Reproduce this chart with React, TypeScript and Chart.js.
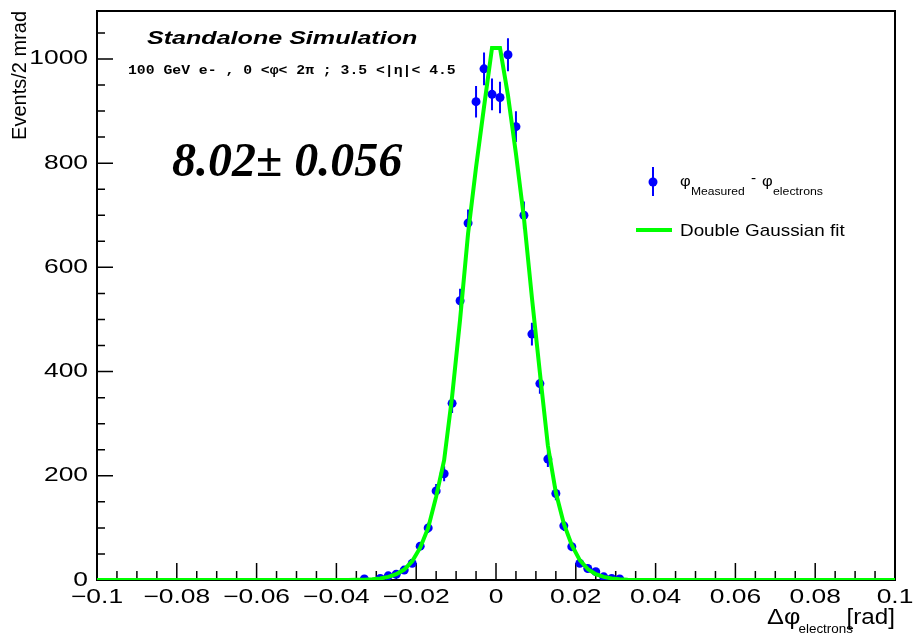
import React, { useEffect, useRef } from "react";
import { Chart, registerables } from "chart.js";

Chart.register(...registerables);

// Histogram of phi_measured - phi_electrons: bin centres (rad) and events per 2 mrad
const binCenters = [-0.033, -0.029, -0.027, -0.025, -0.023, -0.021, -0.019, -0.017, -0.015, -0.013, -0.011, -0.009, -0.007, -0.005, -0.003, -0.001, 0.001, 0.003, 0.005, 0.007, 0.009, 0.011, 0.013, 0.015, 0.017, 0.019, 0.021, 0.023, 0.025, 0.027, 0.029, 0.031];
const eventCounts = [2, 3, 8, 11, 19, 32, 65, 100, 171, 204, 339, 536, 685, 918, 981, 932, 926, 1008, 870, 700, 472, 377, 232, 166, 104, 64, 32, 22, 16, 6, 3, 2];

const fitX = [-0.1, -0.037, -0.035, -0.033, -0.031, -0.029, -0.027, -0.025, -0.023, -0.021, -0.019, -0.017, -0.015, -0.013, -0.011, -0.009, -0.007, -0.005, -0.003, -0.001, 0.001, 0.003, 0.005, 0.007, 0.009, 0.011, 0.013, 0.015, 0.017, 0.019, 0.021, 0.023, 0.025, 0.027, 0.029, 0.031, 0.033, 0.035, 0.1];
const fitY = [0, 0.1, 0.3, 0.7, 1.5, 3, 6, 11, 20, 36, 62, 100, 160, 230, 352, 500, 665, 792, 908, 1021, 1021, 930, 818, 695, 542, 398, 258, 168, 108, 67, 38, 21, 11, 6, 3, 1.5, 0.6, 0.2, 0];

// Axes
const xTickValues = [-0.1, -0.08, -0.06, -0.04, -0.02, 0, 0.02, 0.04, 0.06, 0.08, 0.1];
const xTickLabels = ["\u22120.1", "\u22120.08", "\u22120.06", "\u22120.04", "\u22120.02", "0", "0.02", "0.04", "0.06", "0.08", "0.1"];
const yTickValues = [0, 200, 400, 600, 800, 1000];
const yTickLabels = ["0", "200", "400", "600", "800", "1000"];
const xMin = -0.1;
const xMax = 0.1;
const yMax = 1092;
const xMinorStep = 0.005;
const yMinorStep = 50;

// Texts
const yAxisTitle = "Events/2 mrad";
const xAxisTitleMain = "\u0394\u03c6";
const xAxisTitleSub = "electrons";
const xAxisTitleUnit = "[rad]";
const headerTitle = "Standalone Simulation";
const headerInfo = "100 GeV e- , 0 <\u03c6< 2\u03c0 ; 3.5 <|\u03b7|< 4.5";
const resolutionText = "8.02\u00b1 0.056";
const legendDataParts = ["\u03c6", "Measured", "-", "\u03c6", "electrons"];
const legendFitLabel = "Double Gaussian fit";

const BLUE = "#0000ff";
const GREEN = "#00ff00";
const SANS = '"Liberation Sans", Arial, sans-serif';

function drawText(
  ctx: CanvasRenderingContext2D,
  s: string,
  x: number,
  y: number,
  font: string,
  sx = 1,
  align: CanvasTextAlign = "left",
  baseline: CanvasTextBaseline = "alphabetic",
  rotate = 0
) {
  ctx.save();
  ctx.font = font;
  ctx.fillStyle = "#000";
  ctx.textAlign = align;
  ctx.textBaseline = baseline;
  ctx.translate(x, y);
  ctx.scale(sx, 1);
  if (rotate) ctx.rotate(rotate);
  ctx.fillText(s, 0, 0);
  ctx.restore();
}

export default function App() {
  const ref = useRef<HTMLCanvasElement>(null);

  useEffect(() => {
    const canvas = ref.current!;
    const ctx = canvas.getContext("2d")!;
    const AXIS_SX = 1.32;
    let stretchAxis = false;
    const origFill = ctx.fillText;
    (ctx as any).fillText = function (text: string, x: number, y: number) {
      if (!stretchAxis) return origFill.call(this, text, x, y);
      const m = this.getTransform();
      const px = m.a * x + m.c * y + m.e;
      this.save();
      this.setTransform(AXIS_SX, 0, 0, 1, px * (1 - AXIS_SX), 0);
      this.transform(m.a, m.b, m.c, m.d, m.e, m.f);
      origFill.call(this, text, x, y);
      this.restore();
    };

    const rootPlugin = {
      id: "rootStyle",
      beforeDraw() {
        stretchAxis = true;
      },
      beforeDatasetsDraw(chart: any) {
        stretchAxis = false;
        const c = chart.ctx as CanvasRenderingContext2D;
        const { left, right, top, bottom } = chart.chartArea;
        const xs = chart.scales.x;
        const ys = chart.scales.y;
        c.save();
        // ticks
        c.strokeStyle = "#000";
        c.lineWidth = 1.5;
        c.beginPath();
        for (let v = 0; v <= yMax + 1e-9; v += yMinorStep) {
          const major = yTickValues.some((t) => Math.abs(t - v) < 1e-6);
          const py = ys.getPixelForValue(v);
          c.moveTo(left, py);
          c.lineTo(left + (major ? 16 : 8), py);
        }
        const n = Math.round((xMax - xMin) / xMinorStep);
        for (let i = 0; i <= n; i++) {
          const v = xMin + i * xMinorStep;
          const major = xTickValues.some((t) => Math.abs(t - v) < 1e-9);
          const px = xs.getPixelForValue(v);
          c.moveTo(px, bottom);
          c.lineTo(px, bottom - (major ? 17 : 9));
        }
        c.stroke();
        // frame
        c.lineWidth = 2;
        c.strokeRect(left, top, right - left, bottom - top);
        // error bars
        c.strokeStyle = BLUE;
        c.lineWidth = 2;
        c.beginPath();
        binCenters.forEach((b, i) => {
          const n0 = eventCounts[i];
          const e = Math.sqrt(n0);
          const px = xs.getPixelForValue(b);
          c.moveTo(px, ys.getPixelForValue(Math.max(0, n0 - e)));
          c.lineTo(px, ys.getPixelForValue(n0 + e));
        });
        c.stroke();
        c.restore();
      },
      afterDraw(chart: any) {
        const c = chart.ctx as CanvasRenderingContext2D;
        // Y axis title (reads bottom to top, ends at the top of the axis)
        drawText(c, yAxisTitle, 26, 11, `20px ${SANS}`, 1.05, "right", "alphabetic", -Math.PI / 2);
        // X axis title
        drawText(c, xAxisTitleUnit, 895, 624, `22px ${SANS}`, 1.1, "right");
        drawText(c, xAxisTitleSub, 853, 633, `12px ${SANS}`, 1.12, "right");
        drawText(c, xAxisTitleMain, 767, 624, `22px ${SANS}`, 1.15, "left");
        // header texts
        drawText(c, headerTitle, 147, 44, `bold italic 19px ${SANS}`, 1.32);
        drawText(c, headerInfo, 128, 74, `bold 12px "Liberation Mono", monospace`, 1.23);
        drawText(c, resolutionText, 172, 176, `bold italic 48px "Liberation Serif", serif`, 1.0);
        // legend entry 1: marker with error bar
        c.save();
        c.strokeStyle = BLUE;
        c.fillStyle = BLUE;
        c.lineWidth = 2;
        c.beginPath();
        c.moveTo(653, 167);
        c.lineTo(653, 196);
        c.stroke();
        c.beginPath();
        c.arc(653, 182, 4.5, 0, Math.PI * 2);
        c.fill();
        c.restore();
        drawText(c, legendDataParts[0], 680, 186, `15px ${SANS}`, 1.1);
        drawText(c, legendDataParts[1], 691, 195, `11px ${SANS}`, 1.1);
        drawText(c, legendDataParts[2], 751, 183, `14px ${SANS}`, 1.1);
        drawText(c, legendDataParts[3], 762, 186, `15px ${SANS}`, 1.1);
        drawText(c, legendDataParts[4], 773, 195, `11px ${SANS}`, 1.12);
        // legend entry 2: fit line
        c.save();
        c.strokeStyle = GREEN;
        c.lineWidth = 4;
        c.beginPath();
        c.moveTo(636, 230);
        c.lineTo(672, 230);
        c.stroke();
        c.restore();
        drawText(c, legendFitLabel, 680, 236, `17px ${SANS}`, 1.11);
      },
    };

    const chart = new Chart(ctx, {
      type: "scatter",
      data: {
        datasets: [
          {
            label: legendFitLabel,
            data: fitX.map((x, i) => ({ x, y: fitY[i] })),
            showLine: true,
            borderColor: GREEN,
            backgroundColor: GREEN,
            borderWidth: 4,
            pointRadius: 0,
            pointHoverRadius: 0,
            tension: 0,
            fill: false,
          } as any,
          {
            label: "phi_Measured - phi_electrons",
            data: binCenters.map((x, i) => ({ x, y: eventCounts[i] })),
            showLine: false,
            pointRadius: 4.5,
            pointBorderWidth: 0,
            pointBackgroundColor: BLUE,
            pointBorderColor: BLUE,
            backgroundColor: BLUE,
            borderColor: BLUE,
          } as any,
        ],
      },
      options: {
        responsive: false,
        animation: false,
        events: [],
        layout: { padding: { left: 0, right: 21, top: 11, bottom: 0 } },
        plugins: {
          legend: { display: false },
          tooltip: { enabled: false },
          title: { display: false },
        },
        scales: {
          x: {
            type: "linear",
            position: "bottom",
            min: xMin,
            max: xMax,
            grid: { display: false, drawTicks: false },
            border: { display: false },
            afterBuildTicks: (s: any) => {
              s.ticks = xTickValues.map((v) => ({ value: v }));
            },
            afterFit: (s: any) => {
              s.height = 55;
              s.paddingLeft = 0;
              s.paddingRight = 0;
              s.paddingTop = 0;
              s.paddingBottom = 0;
            },
            ticks: {
              autoSkip: false,
              maxRotation: 0,
              minRotation: 0,
              padding: 5,
              color: "#000",
              font: { family: SANS, size: 20 },
              callback: (_v: any, i: number) => xTickLabels[i],
            },
          },
          y: {
            type: "linear",
            position: "left",
            min: 0,
            max: yMax,
            grid: { display: false, drawTicks: false },
            border: { display: false },
            afterBuildTicks: (s: any) => {
              s.ticks = yTickValues.map((v) => ({ value: v }));
            },
            afterFit: (s: any) => {
              s.width = 97;
              s.paddingTop = 0;
              s.paddingBottom = 0;
              s.paddingLeft = 0;
              s.paddingRight = 0;
            },
            ticks: {
              autoSkip: false,
              padding: 9,
              color: "#000",
              font: { family: SANS, size: 20 },
              callback: (_v: any, i: number) => yTickLabels[i],
            },
          },
        },
      } as any,
      plugins: [rootPlugin],
    });

    return () => {
      chart.destroy();
      (ctx as any).fillText = origFill;
    };
  }, []);

  return (
    <div style={{ position: "absolute", left: 0, top: 0, width: 916, height: 635, background: "#fff" }}>
      <canvas ref={ref} width={916} height={635} style={{ display: "block", width: 916, height: 635 }} />
    </div>
  );
}
